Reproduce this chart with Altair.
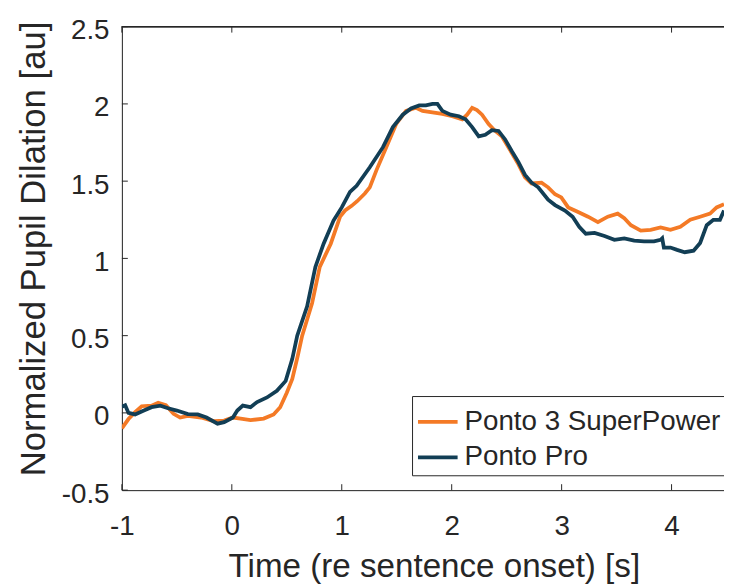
import altair as alt
import pandas as pd

series_names = ["Ponto 3 SuperPower", "Ponto Pro"]
series_colors = ["#F47A26", "#123E55"]

orange_t = [-1.00, -0.94, -0.88, -0.82, -0.73, -0.67, -0.60, -0.53, -0.47, -0.40,
            -0.28, -0.16, -0.07, 0.01, 0.08, 0.17, 0.29, 0.38, 0.44, 0.50,
            0.55, 0.60, 0.64, 0.73, 0.80, 0.90, 0.985, 1.03, 1.09, 1.14,
            1.21, 1.255, 1.315, 1.405, 1.495, 1.585, 1.675, 1.735, 1.825, 1.915,
            2.005, 2.096, 2.14, 2.186, 2.23, 2.276, 2.336, 2.396, 2.456, 2.516,
            2.606, 2.667, 2.727, 2.817, 2.877, 2.94, 2.997, 3.06, 3.15, 3.24,
            3.33, 3.42, 3.51, 3.57, 3.63, 3.72, 3.81, 3.90, 3.99, 4.08,
            4.17, 4.26, 4.35, 4.41, 4.477]
orange_v = [-0.10, -0.04, 0.005, 0.043, 0.047, 0.066, 0.05, -0.006, -0.03, -0.02,
            -0.03, -0.054, -0.05, -0.03, -0.037, -0.047, -0.037, -0.01, 0.037, 0.13,
            0.22, 0.37, 0.50, 0.71, 0.945, 1.095, 1.27, 1.31, 1.34, 1.37,
            1.42, 1.46, 1.57, 1.72, 1.87, 1.955, 1.975, 1.955, 1.945, 1.935,
            1.92, 1.90, 1.93, 1.975, 1.96, 1.93, 1.87, 1.825, 1.79, 1.72,
            1.61, 1.525, 1.485, 1.49, 1.46, 1.415, 1.395, 1.33, 1.30, 1.27,
            1.235, 1.27, 1.29, 1.26, 1.215, 1.18, 1.185, 1.20, 1.185, 1.205,
            1.25, 1.27, 1.29, 1.33, 1.35]

blue_t = [-1.00, -0.97, -0.94, -0.88, -0.80, -0.73, -0.65, -0.58, -0.50, -0.40,
          -0.31, -0.23, -0.13, -0.07, 0.01, 0.05, 0.10, 0.17, 0.23, 0.32,
          0.41, 0.49, 0.55, 0.595, 0.685, 0.76, 0.835, 0.925, 1.00, 1.075,
          1.135, 1.255, 1.375, 1.465, 1.555, 1.63, 1.705, 1.765, 1.825, 1.87,
          1.915, 1.99, 2.066, 2.126, 2.186, 2.246, 2.306, 2.366, 2.426, 2.486,
          2.546, 2.606, 2.667, 2.727, 2.787, 2.877, 2.94, 3.03, 3.10, 3.16,
          3.22, 3.30, 3.39, 3.48, 3.57, 3.66, 3.75, 3.84, 3.90, 3.915,
          3.93, 3.99, 4.05, 4.12, 4.20, 4.26, 4.32, 4.38, 4.44, 4.477]
blue_v = [0.04, 0.05, 0.00, -0.01, 0.015, 0.037, 0.047, 0.03, 0.015, -0.008,
          -0.01, -0.03, -0.07, -0.06, -0.03, 0.015, 0.047, 0.037, 0.07, 0.10,
          0.143, 0.207, 0.35, 0.50, 0.69, 0.945, 1.095, 1.245, 1.33, 1.43,
          1.47, 1.59, 1.72, 1.85, 1.93, 1.97, 1.99, 1.99, 2.00, 2.00,
          1.955, 1.93, 1.92, 1.90, 1.85, 1.79, 1.80, 1.83, 1.825, 1.77,
          1.695, 1.625, 1.54, 1.49, 1.46, 1.38, 1.345, 1.31, 1.27, 1.205,
          1.16, 1.165, 1.145, 1.12, 1.13, 1.115, 1.11, 1.11, 1.12, 1.13,
          1.07, 1.07, 1.055, 1.04, 1.05, 1.10, 1.215, 1.25, 1.25, 1.31]

x_ticks = [-1, 0, 1, 2, 3, 4]
y_ticks = [-0.5, 0, 0.5, 1, 1.5, 2, 2.5]

W, H = 608, 468
TXT = "#262626"
FONT = "Liberation Sans"
LABEL_EXPR = "replace(format(datum.value, '~g'), '\u2212', '-')"

df = pd.concat([
    pd.DataFrame({"t": orange_t, "v": orange_v, "series": series_names[0]}),
    pd.DataFrame({"t": blue_t, "v": blue_v, "series": series_names[1]}),
])

xscale = alt.Scale(domain=[-1, 4.477], nice=False, zero=False)
yscale = alt.Scale(domain=[-0.5, 2.5], nice=False, zero=False)

xaxis = alt.Axis(values=x_ticks, title="Time (re sentence onset) [s]", ticks=False,
                 grid=False, labelFontSize=28, labelPadding=45, labelBaseline="alphabetic",
                 labelExpr=LABEL_EXPR, labelFont=FONT, labelColor=TXT,
                 titleFont=FONT, titleFontSize=33.5, titleFontWeight="normal", titleColor=TXT,
                 titleX=315, titleY=87, titleAlign="center", titleBaseline="alphabetic",
                 domainColor=TXT, domainWidth=1, labelFlush=False, labelOverlap=False)
yaxis = alt.Axis(values=y_ticks, title="Normalized Pupil Dilation [au]", ticks=False,
                 grid=False, labelFontSize=28, labelPadding=13, labelBaseline="middle", labelOffset=4,
                 labelExpr=LABEL_EXPR, labelFont=FONT, labelColor=TXT,
                 titleFont=FONT, titleFontSize=35, titleFontWeight="normal", titleColor=TXT,
                 titleAngle=270, titleX=-78, titleY=224, titleAlign="center", titleBaseline="alphabetic",
                 domainColor=TXT, domainWidth=1, labelFlush=False, labelOverlap=False)

color = alt.Color("series:N", scale=alt.Scale(domain=series_names, range=series_colors),
                  legend=alt.Legend(title=None, orient="none", legendX=293, legendY=373,
                                    symbolType="stroke", symbolSize=1600, symbolStrokeWidth=3.8,
                                    labelFontSize=28, labelFont=FONT, labelColor=TXT, labelOffset=5,
                                    labelLimit=500,
                                    strokeColor=TXT, fillColor="white", padding=4, rowPadding=-3,
                                    cornerRadius=0))

base = alt.Chart(df).mark_line(strokeWidth=3.8, clip=True).encode(
    x=alt.X("t:Q", scale=xscale, axis=xaxis),
    y=alt.Y("v:Q", scale=yscale, axis=yaxis),
    color=color,
)
orange = base.transform_filter(alt.datum.series == series_names[0])
blue = base.transform_filter(alt.datum.series == series_names[1])

dfx = pd.DataFrame({"tick": x_ticks})
dfy = pd.DataFrame({"tick": y_ticks})
tick_style = dict(color=TXT, strokeWidth=1)
xt_bottom = alt.Chart(dfx).mark_rule(**tick_style).encode(
    x=alt.X("tick:Q", scale=xscale, axis=xaxis), y=alt.value(H), y2=alt.value(H - 6))
xt_top = alt.Chart(dfx).mark_rule(**tick_style).encode(
    x=alt.X("tick:Q", scale=xscale, axis=xaxis), y=alt.value(0), y2=alt.value(6))
yt_left = alt.Chart(dfy).mark_rule(**tick_style).encode(
    y=alt.Y("tick:Q", scale=yscale, axis=yaxis), x=alt.value(0), x2=alt.value(6))
top_border = alt.Chart(dfx).mark_rule(**tick_style).encode(
    x=alt.value(0), x2=alt.value(W), y=alt.value(0))

chart = alt.layer(orange, blue, xt_bottom, xt_top, yt_left, top_border).properties(
    width=W, height=H,
    autosize=alt.AutoSizeParams(type="none"),
    padding={"left": 115, "top": 16, "right": 0, "bottom": 98},
).configure_view(stroke=None).configure(font=FONT, background="white")

chart.save("out.html", embed_options={"renderer": "svg", "actions": False})
